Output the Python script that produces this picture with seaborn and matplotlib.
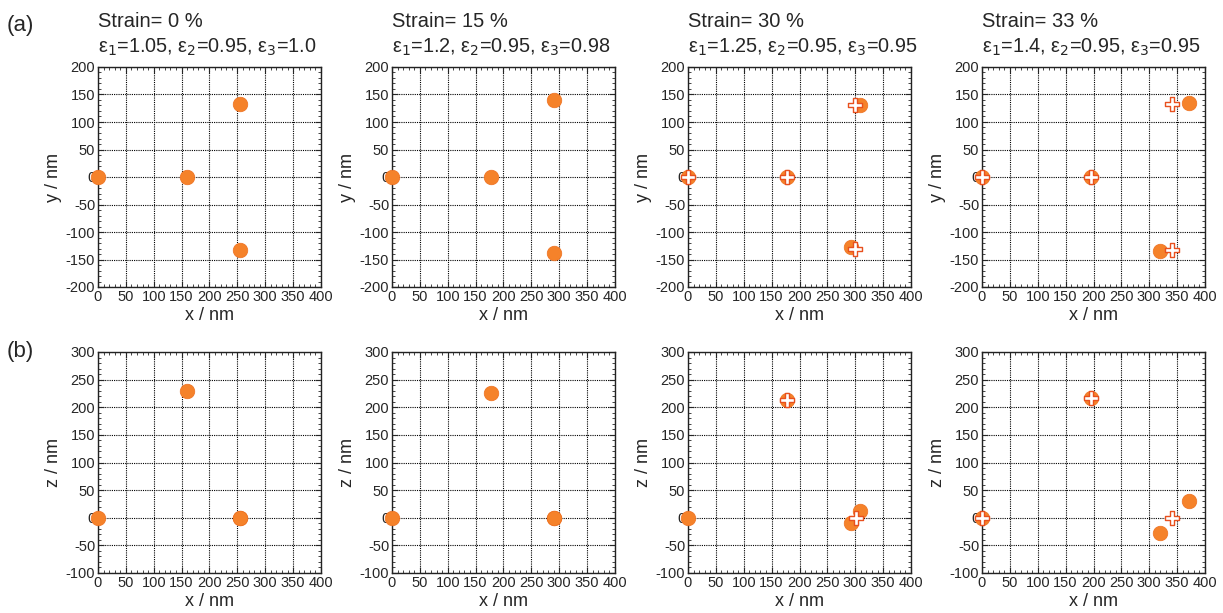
import matplotlib
matplotlib.use("Agg")
import matplotlib.pyplot as plt
import seaborn as sns
import pandas as pd
from matplotlib.ticker import MultipleLocator

sns.set_style("ticks")
plt.rcParams['font.family'] = ['Liberation Sans', 'DejaVu Sans']
plt.rcParams['axes.unicode_minus'] = False

strains = ["0", "15", "30", "33"]
eps1 = ["1.05", "1.2", "1.25", "1.4"]
eps2 = ["0.95", "0.95", "0.95", "0.95"]
eps3 = ["1.0", "0.98", "0.95", "0.95"]

# (a) x-y positions, filled circles
xy_circ_x = [[0, 160, 255, 255], [0, 178, 290, 290], [0, 178, 308, 293], [0, 195, 372, 320]]
xy_circ_y = [[0, 0, 133, -133], [0, 0, 140, -138], [0, 0, 130, -128], [0, 0, 135, -135]]
# (a) x-y positions, crosses
xy_cross_x = [[], [], [0, 178, 300, 300], [0, 195, 340, 340]]
xy_cross_y = [[], [], [0, 0, 130, -130], [0, 0, 133, -133]]

# (b) x-z positions, filled circles
xz_circ_x = [[0, 160, 255, 255], [0, 178, 290, 290], [0, 178, 293, 308], [0, 195, 320, 372]]
xz_circ_z = [[0, 230, 0, 0], [0, 225, 0, 0], [0, 213, -10, 12], [0, 217, -28, 30]]
# (b) x-z positions, crosses
xz_cross_x = [[], [], [178, 302], [0, 195, 340]]
xz_cross_z = [[], [], [213, 0], [0, 217, 0]]

circ_color = "#F5822A"
cross_edge = "#E8501E"

W, H = 1223, 613
fig = plt.figure(figsize=(W / 100, H / 100), dpi=100)

lefts = [98, 392, 688, 982]
aw = 223


def style_axis(ax, ymin, ymax, ylab):
    ax.set_xlim(0, 400)
    ax.set_ylim(ymin, ymax)
    ax.xaxis.set_major_locator(MultipleLocator(50))
    ax.yaxis.set_major_locator(MultipleLocator(50))
    ax.xaxis.set_minor_locator(MultipleLocator(10))
    ax.yaxis.set_minor_locator(MultipleLocator(10))
    ax.tick_params(which='both', direction='in', top=True, right=True, labelsize=10.5, pad=2)
    ax.tick_params(which='major', length=4, width=0.8)
    ax.tick_params(which='minor', length=2, width=0.6)
    ax.grid(True, which='major', color='black', linestyle=(0, (1, 1)), linewidth=0.8)
    ax.set_axisbelow(True)
    for s in ax.spines.values():
        s.set_linewidth(1.0)
        s.set_color('#222222')
    ax.set_xlabel("x / nm", fontsize=13, labelpad=2)
    ax.set_ylabel(ylab, fontsize=13, labelpad=3)


def draw(ax, cx, cy, px, py):
    d = pd.DataFrame({"x": cx, "y": cy})
    sns.scatterplot(data=d, x="x", y="y", ax=ax, s=110, color=circ_color,
                    edgecolor="#EE7020", linewidth=0.5, zorder=3, clip_on=False)
    if px:
        d2 = pd.DataFrame({"x": px, "y": py})
        sns.scatterplot(data=d2, x="x", y="y", ax=ax, marker="P", s=90, color="white",
                        edgecolor=cross_edge, linewidth=1.0, zorder=4, clip_on=False)


for i in range(4):
    ax = fig.add_axes([lefts[i] / W, (H - 287) / H, aw / W, 220 / H])
    draw(ax, xy_circ_x[i], xy_circ_y[i], xy_cross_x[i], xy_cross_y[i])
    style_axis(ax, -200, 200, "y / nm")
    ax.text(0.0, 1.205, f"Strain= {strains[i]} %", transform=ax.transAxes,
            fontsize=14.5, ha='left', va='center')
    ax.text(0.0, 1.09, f"ε$_1$={eps1[i]}, ε$_2$={eps2[i]}, ε$_3$={eps3[i]}",
            transform=ax.transAxes, fontsize=14.3, ha='left', va='center')

    bx = fig.add_axes([lefts[i] / W, (H - 573) / H, aw / W, 221 / H])
    draw(bx, xz_circ_x[i], xz_circ_z[i], xz_cross_x[i], xz_cross_z[i])
    style_axis(bx, -100, 300, "z / nm")

fig.text(7 / W, 1 - 26 / H, "(a)", fontsize=16, ha='left', va='center')
fig.text(7 / W, 1 - 352 / H, "(b)", fontsize=16, ha='left', va='center')

fig.savefig("out.png", dpi=100)
